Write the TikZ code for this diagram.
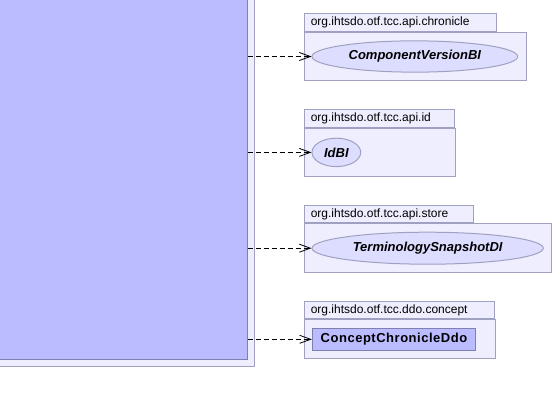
\documentclass[tikz,border=0pt]{standalone}
\usepackage{fontspec}
\setmainfont{Liberation Sans}
\usetikzlibrary{arrows.meta, positioning, shapes.geometric}
\definecolor{pkgfill}{HTML}{EEEEFF}
\definecolor{pkgline}{HTML}{A0A0C0}
\definecolor{clsfill}{HTML}{BBBBFF}
\definecolor{clsline}{HTML}{8080B0}
\definecolor{ifcfill}{HTML}{DDDDFF}

\tikzset{
  pkgbody/.style={draw=pkgline, fill=pkgfill, line width=1pt, inner sep=0pt, anchor=north west},
  pkgtab/.style={draw=pkgline, fill=pkgfill, line width=1pt, inner xsep=6pt, inner ysep=0pt,
    anchor=south west, align=left, font=\fontsize{12}{14}\selectfont},
  iface/.style={ellipse, draw=pkgline, fill=ifcfill, line width=1pt, inner sep=0pt,
    font=\fontsize{13}{15}\selectfont\bfseries\itshape},
  cls/.style={draw=clsline, fill=clsfill, line width=1pt, inner sep=0pt,
    font=\fontsize{13}{15}\selectfont\bfseries\addfontfeature{LetterSpace=4}},
  dep/.style={densely dashed, dash pattern=on 5pt off 3pt, line width=0.8pt,
    -{Straight Barb[length=11pt, width=8pt]}},
}

\begin{document}
\begin{tikzpicture}[x=1pt, y=-1pt]

\path[use as bounding box, clip] (0,0) rectangle (554,404);
\fill[white] (0,0) rectangle (554,404);

% left package and its class, cut by the page
\node[pkgbody, minimum width=264pt, minimum height=376pt] (mainpkg) at (-10,-10) {};
\node[cls, anchor=north west, minimum width=256.7pt, minimum height=368.7pt] (main) at (-10,-10) {};

% org.ihtsdo.otf.tcc.api.chronicle
\node[pkgbody, minimum width=221.4pt, minimum height=47.7pt] (chronpkg) at (304.3,32.3) {};
\node[pkgtab, text width=179.7pt, minimum height=18pt] (chrontab) at (chronpkg.north west)
  {org.ihtsdo.otf.tcc.api.chronicle};
\node[iface, minimum width=205.7pt, minimum height=31.3pt] (chron) at (414.85,56.5)
  {ComponentVersionBI};

% org.ihtsdo.otf.tcc.api.id
\node[pkgbody, minimum width=151pt, minimum height=48.3pt] (idpkg) at (304.3,127.7) {};
\node[pkgtab, text width=137.4pt, minimum height=17.7pt] (idtab) at (idpkg.north west)
  {org.ihtsdo.otf.tcc.api.id};
\node[iface, minimum width=48.7pt, minimum height=28.4pt] (id) at (336.35,152.4)
  {IdBI};

% org.ihtsdo.otf.tcc.api.store
\node[pkgbody, minimum width=246.7pt, minimum height=48.4pt] (storepkg) at (304.3,223.3) {};
\node[pkgtab, text width=157pt, minimum height=17.3pt] (storetab) at (storepkg.north west)
  {org.ihtsdo.otf.tcc.api.store};
\node[iface, minimum width=231.3pt, minimum height=32pt] (store) at (427.65,248.2)
  {TerminologySnapshotDI};

% org.ihtsdo.otf.tcc.ddo.concept
\node[pkgbody, minimum width=191pt, minimum height=39pt] (conpkg) at (304.3,319) {};
\node[pkgtab, text width=178pt, minimum height=16.7pt] (contab) at (conpkg.north west)
  {org.ihtsdo.otf.tcc.ddo.concept};
\node[cls, minimum width=163.4pt, minimum height=22pt] (con) at (394,339.3)
  {ConceptChronicleDdo};

% dependencies
\draw[dep] (main.east |- chron.west) -- (chron.west);
\draw[dep] (main.east |- id.west) -- (id.west);
\draw[dep] (main.east |- store.west) -- (store.west);
\draw[dep] (main.east |- con.west) -- (con.west);

\end{tikzpicture}
\end{document}
